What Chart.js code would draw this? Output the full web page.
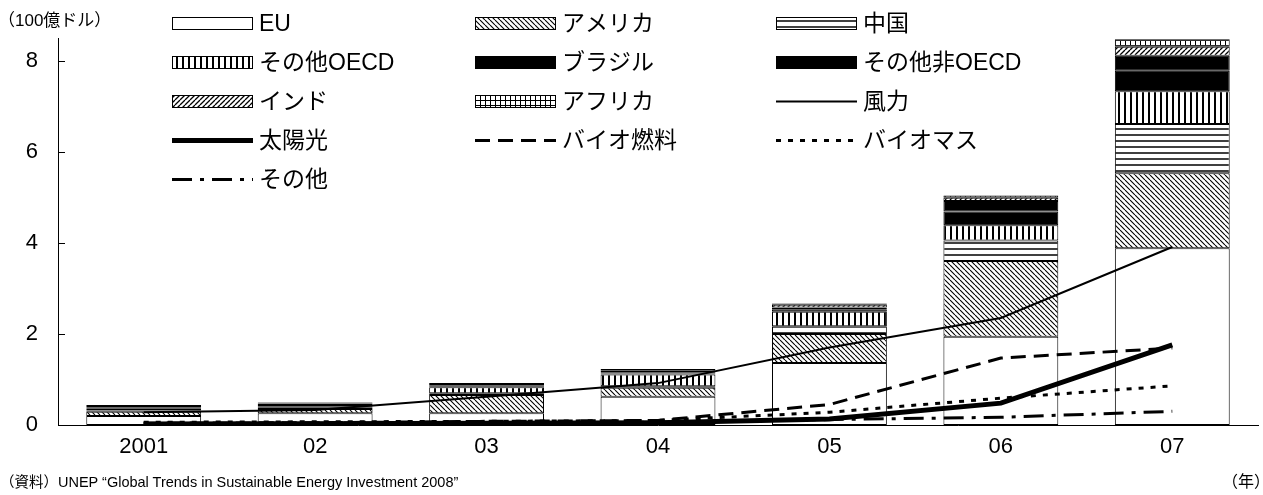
<!DOCTYPE html>
<html>
<head>
<meta charset="utf-8">
<script src="https://cdn.jsdelivr.net/npm/chart.js@4.4.1/dist/chart.umd.min.js"></script>
<style>
    body { margin: 0; background: #fff; }
    #wrap { position: relative; width: 1263px; height: 495px; }
    #chart { position: absolute; left: 0; top: 0; }
    .note { position: absolute; color: #000; white-space: nowrap; line-height: 1;
            font-family: "Liberation Sans", "Noto Sans CJK JP", sans-serif; }
</style>
</head>
<body>
<div id="wrap">
    <canvas id="chart" width="1263" height="495"></canvas>
    <div class="note" style="left:-2px; top:12px; font-size:17px;">（100億ドル）</div>
    <div class="note" style="left:0px; top:475px; font-size:14.5px;">（資料）UNEP “Global Trends in Sustainable Energy Investment 2008”</div>
    <div class="note" style="left:1222px; top:474px; font-size:16px;">（年）</div>
</div>
<script>
// data (100億ドル)
var years = ["2001", "02", "03", "04", "05", "06", "07"];
var yTicks = [0, 2, 4, 6, 8];

// regions (stacked bars)
var eu = [0.20, 0.26, 0.26, 0.62, 1.36, 1.94, 3.88];
var america = [0.09, 0.09, 0.40, 0.20, 0.64, 1.66, 1.65];
var china = [0.03, 0.03, 0.04, 0.03, 0.17, 0.45, 1.08];
var otherOecd = [0.03, 0.03, 0.13, 0.26, 0.32, 0.34, 0.72];
var brazil = [0.02, 0.03, 0.02, 0.02, 0.05, 0.30, 0.45];
var otherNonOecd = [0.02, 0.03, 0.01, 0.02, 0.04, 0.23, 0.33];
var india = [0.03, 0.02, 0.04, 0.04, 0.06, 0.07, 0.20];
var africa = [0.02, 0.01, 0.02, 0.04, 0.03, 0.05, 0.16];

// technologies (lines)
var wind = [0.28, 0.33, 0.62, 0.92, 1.70, 2.35, 3.91];
var solar = [0.02, 0.03, 0.04, 0.05, 0.13, 0.48, 1.76];
var biofuel = [0.04, 0.05, 0.08, 0.10, 0.45, 1.47, 1.69];
var biomass = [0.06, 0.07, 0.08, 0.10, 0.28, 0.59, 0.86];
var others = [0.03, 0.04, 0.05, 0.06, 0.12, 0.17, 0.30];

var FONT = '"Liberation Sans", "Noto Sans CJK JP", sans-serif';

//hatch fills for the bars
function makePattern(kind) {
    var c = document.createElement("canvas");
    var s = 6;
    if (kind == "back" || kind == "fwd") s = 5;
    if (kind == "grid") s = 5;
    c.width = s;
    c.height = s;
    var g = c.getContext("2d");
    g.fillStyle = "#fff";
    g.fillRect(0, 0, s, s);
    g.strokeStyle = "#000";
    g.beginPath();
    if (kind == "back") {
        g.lineWidth = 1.1;
        for (var k = -s; k <= s; k += s) {
            g.moveTo(k, 0);
            g.lineTo(k + s, s);
        }
    } else if (kind == "fwd") {
        g.lineWidth = 1.3;
        for (var k = -s; k <= s; k += s) {
            g.moveTo(k, s);
            g.lineTo(k + s, 0);
        }
    } else if (kind == "hor") {
        g.lineWidth = 1.5;
        g.moveTo(0, 3);
        g.lineTo(s, 3);
    } else if (kind == "vert") {
        g.lineWidth = 2;
        g.moveTo(3, 0);
        g.lineTo(3, s);
    } else if (kind == "grid") {
        g.lineWidth = 1;
        g.moveTo(0.5, 0);
        g.lineTo(0.5, s);
        g.moveTo(0, 0.5);
        g.lineTo(s, 0.5);
    }
    g.stroke();
    return g.createPattern(c, "repeat");
}

function barSet(label, data, fill) {
    return {
        type: "bar",
        label: label,
        data: data,
        backgroundColor: fill,
        borderColor: "#000",
        borderWidth: 1,
        borderSkipped: false,
        stack: "regions",
        order: 1,
        categoryPercentage: 1,
        barPercentage: 0.67
    };
}

function lineSet(label, data, width, dash, id) {
    return {
        type: "line",
        label: label,
        data: data,
        borderColor: "#000",
        backgroundColor: "#000",
        borderWidth: width,
        borderDash: dash,
        pointRadius: 0,
        tension: 0,
        fill: false,
        stack: id,
        order: 0
    };
}

var datasets = [
    barSet("EU", eu, "#fff"),
    barSet("アメリカ", america, makePattern("back")),
    barSet("中国", china, makePattern("hor")),
    barSet("その他OECD", otherOecd, makePattern("vert")),
    barSet("ブラジル", brazil, "#000"),
    barSet("その他非OECD", otherNonOecd, "#000"),
    barSet("インド", india, makePattern("fwd")),
    barSet("アフリカ", africa, makePattern("grid")),
    lineSet("風力", wind, 2, [], "l1"),
    lineSet("太陽光", solar, 5, [], "l2"),
    lineSet("バイオ燃料", biofuel, 3, [15, 8], "l3"),
    lineSet("バイオマス", biomass, 3, [5, 7], "l4"),
    lineSet("その他", others, 3, [20, 8, 4, 8], "l5")
];

// legend in 3 columns drawn over the plot
var legendPlugin = {
    id: "gridLegend",
    afterDraw: function (chart) {
        var ctx = chart.ctx;
        var cols = [172, 475, 776];
        ctx.save();
        ctx.font = "23px " + FONT;
        ctx.textBaseline = "middle";
        ctx.fillStyle = "#000";
        chart.data.datasets.forEach(function (ds, i) {
            var x = cols[i % 3];
            var y = 23.5 + 39 * Math.floor(i / 3);
            var w = 81;
            if (ds.type == "bar") {
                ctx.fillStyle = ds.backgroundColor;
                ctx.fillRect(x, y - 6.5, w, 13);
                ctx.strokeStyle = "#000";
                ctx.lineWidth = 1;
                ctx.setLineDash([]);
                ctx.strokeRect(x + 0.5, y - 6, w - 1, 12);
            } else {
                ctx.strokeStyle = "#000";
                ctx.lineWidth = ds.borderWidth;
                ctx.setLineDash(ds.borderDash);
                ctx.beginPath();
                ctx.moveTo(x, y);
                ctx.lineTo(x + w, y);
                ctx.stroke();
                ctx.setLineDash([]);
            }
            ctx.fillStyle = "#000";
            ctx.fillText(ds.label, x + 87, y + 1);
        });
        ctx.restore();
    }
};

// small tick marks pointing into the plot
var innerTicks = {
    id: "innerTicks",
    afterDraw: function (chart) {
        var ctx = chart.ctx;
        var yScale = chart.scales.y;
        ctx.save();
        ctx.strokeStyle = "#000";
        ctx.lineWidth = 1;
        yTicks.forEach(function (v) {
            var py = Math.round(yScale.getPixelForValue(v)) + 0.5;
            ctx.beginPath();
            ctx.moveTo(yScale.right, py);
            ctx.lineTo(yScale.right + 7, py);
            ctx.stroke();
        });
        ctx.restore();
    }
};

var chart = new Chart(document.getElementById("chart").getContext("2d"), {
    data: {
        labels: years,
        datasets: datasets
    },
    options: {
        responsive: false,
        animation: false,
        devicePixelRatio: 1,
        layout: { padding: { top: 38, right: 5, left: 0, bottom: 0 } },
        plugins: {
            legend: { display: false },
            tooltip: { enabled: false }
        },
        scales: {
            x: {
                stacked: true,
                grid: { display: false, drawTicks: false },
                border: { display: true, color: "#000", width: 1 },
                ticks: { color: "#000", padding: 9, font: { size: 22, family: FONT } },
                afterFit: function (scale) { scale.height = 70; }
            },
            y: {
                stacked: true,
                min: 0,
                max: 8.5,
                grid: { display: false, drawTicks: false },
                border: { display: true, color: "#000", width: 1 },
                ticks: { color: "#000", padding: 20, font: { size: 22, family: FONT } },
                afterBuildTicks: function (scale) {
                    scale.ticks = yTicks.map(function (v) { return { value: v }; });
                },
                afterFit: function (scale) { scale.width = 58; }
            }
        }
    },
    plugins: [legendPlugin, innerTicks]
});
</script>
</body>
</html>
